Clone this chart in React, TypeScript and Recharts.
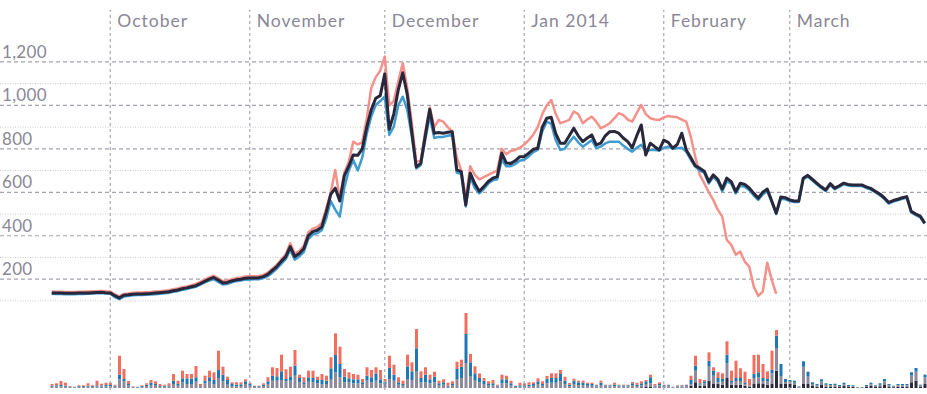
import React from 'react';
import { ComposedChart, Line, Bar, XAxis, YAxis, ReferenceLine } from 'recharts';

const FONT = 'Lato, "Open Sans", sans-serif';
const TEXT = '#8a8796';

// Daily series from 18 Sep 2013 (day 0) to 31 Mar 2014 (day 194)
const monthLabels = ['October', 'November', 'December', 'Jan 2014', 'February', 'March'];
const monthStartDay = [13, 44, 74, 105, 136, 164];
const priceGrid = [100, 200, 300, 400, 500, 600, 700, 800, 900, 1000, 1100, 1200];

// Mt. Gox (pink) – stops on 25 Feb
const goxPrice = [
  143, 142, 142, 141, 141, 141, 142, 142, 143, 144, 145, 146, 144, 143,
  130, 121, 132, 134,
  138, 139, 139, 140, 141, 143, 145, 147, 149, 154, 157, 163, 167, 172, 178, 188, 198, 208, 216, 204, 191, 193, 200, 205, 208, 212, 213,
  214, 215, 220, 230, 248, 266, 290, 315, 365, 318, 330, 352, 415, 432, 440, 458, 525, 600, 703, 570, 690, 740, 833, 820, 830, 940, 1080, 1130, 1160, 1225,
  1000, 1020, 1110, 1195, 1080, 920, 740, 745, 880, 990, 900, 933, 925, 900, 880, 760, 700, 570, 720, 680, 660, 670, 680, 690, 700, 800, 775, 790, 795, 805,
  820, 840, 865, 900, 960, 1000, 1025, 960, 918, 925, 933, 972, 960, 918, 935, 948, 925, 895, 905, 918, 940, 964, 955, 935, 925, 965, 1002, 960, 941, 935, 933,
  945, 951, 948, 945, 935, 925, 856, 764, 680, 642, 600, 565, 520, 488, 381, 358, 312, 327, 281, 258, 166, 123, 143, 276, 197, 132,
];

// Bitstamp (blue)
const stampPrice = [
  133, 132, 132, 131, 131, 131, 132, 132, 133, 134, 135, 136, 134, 133,
  118, 108, 120, 123,
  126, 127, 127, 128, 129, 131, 133, 135, 137, 142, 145, 151, 155, 160, 165, 175, 185, 194, 200, 188, 176, 178, 186, 191, 194, 198, 199,
  200, 200, 205, 214, 230, 248, 270, 292, 335, 290, 305, 325, 385, 405, 412, 425, 480, 560, 520, 488, 620, 700, 749, 700, 760, 870, 950, 1002, 1020, 1040,
  864, 902, 1000, 1040, 980, 860, 710, 725, 840, 950, 850, 855, 855, 860, 865, 690, 685, 535, 670, 620, 595, 615, 640, 655, 660, 750, 720, 720, 730, 745,
  750, 765, 785, 795, 880, 925, 915, 840, 795, 800, 830, 856, 830, 810, 825, 841, 803, 810, 825, 833, 833, 833, 815, 800, 787, 805, 818, 787, 795, 795, 792,
  805, 810, 800, 803, 805, 787, 750, 718, 700, 690, 640, 670, 650, 605, 650, 640, 595, 630, 625, 610, 585, 565, 590, 605, 555, 500, 570, 568, 560, 555, 555,
  660, 672, 655, 637, 620, 606, 634, 614, 625, 637, 631, 629, 629, 629, 620, 613, 600, 587, 570, 548, 557, 563, 570, 575, 507, 495, 485, 455,
];

// Average price (dark)
const avgPrice = [
  137, 136, 136, 135, 135, 135, 136, 136, 137, 138, 139, 140, 138, 137,
  124, 114, 126, 128,
  131, 132, 132, 133, 134, 136, 138, 140, 142, 147, 150, 156, 160, 165, 170, 180, 190, 200, 208, 196, 183, 185, 192, 197, 200, 204, 205,
  206, 207, 212, 222, 240, 258, 282, 304, 350, 304, 318, 340, 400, 419, 425, 440, 510, 590, 619, 560, 675, 720, 772, 770, 800, 900, 980, 1033, 1045, 1145,
  890, 960, 1071, 1150, 1050, 880, 717, 733, 860, 982, 872, 875, 872, 876, 879, 703, 695, 542, 688, 640, 605, 626, 650, 665, 672, 780, 735, 733, 745, 764,
  764, 780, 798, 803, 900, 941, 945, 870, 826, 826, 860, 895, 860, 833, 850, 864, 818, 826, 860, 879, 880, 872, 850, 833, 805, 860, 910, 772, 826, 810, 795,
  840, 830, 803, 820, 872, 795, 760, 722, 711, 697, 649, 680, 660, 615, 665, 649, 603, 642, 636, 620, 595, 573, 600, 615, 560, 504, 578, 575, 565, 560, 560,
  665, 678, 660, 642, 625, 611, 640, 619, 630, 642, 636, 634, 634, 634, 625, 618, 605, 592, 575, 553, 562, 568, 575, 580, 512, 500, 490, 458,
];

// Stacked daily volumes (relative units)
const volRed = [
  1.7, 2, 4, 3, 0.5, 0.3, 0.7, 0.7, 2.4, 0.7, 4.6, 1.8, 2.3, 2.3, 1,
  19, 10, 3, 0.4, 0.3, 0.7, 1.4, 2.7, 2.7, 2, 1, 2.4, 6.7, 3.3, 7.6,
  4.3, 4.7, 11.3, 2.3, 5, 6.6, 7.7, 19.3, 8, 3.3, 1.7, 2.4, 2, 2, 1.3,
  0.5, 0.5, 1.4, 4, 8.4, 8.3, 16.6, 9.7, 9.6, 15.7, 3.3, 5, 6.6, 7.3, 3.3,
  6, 5, 11, 21.7, 17.3, 7.7, 6, 5.3, 4.6, 3.3, 8.4, 7.3, 6, 9.3, 2.7,
  12.3, 10, 5, 3.3, 11.6, 9, 19.3, 6.7, 7.4, 4.6, 5, 2.6, 3, 3, 2.7,
  7.3, 7, 21, 8.3, 7, 4.7, 2.7, 2.7, 3.3, 0.8, 4.6, 3.6, 2.6, 0.3, 2.6,
  2, 2.4, 1.7, 3, 2.7, 2.7, 4.7, 4.7, 4, 4, 1.7, 2, 1.6, 2, 1.3,
  1.3, 0.6, 2, 0.6, 0.6, 2, 0.6, 0.6, 0.6, 1.3, 2, 2, 1.3, 2.6, 1.7,
  1.7, 0.5, 0.5, 0.2, 0.4, 0.5, 0.5, 4.3, 10, 4.3, 1.3, 8.4, 3.4, 5.7, 5.7,
  13.4, 10, 17.3, 9.7, 10.6, 6.7, 19, 17.6, 14, 7.7, 19, 5.7, 0, 0, 0,
  0, 0, 0, 0, 0, 0, 0, 0, 0, 0, 0, 0, 0, 0, 0,
  0, 0, 0, 0, 0, 0, 0, 0, 0, 0, 0, 0, 0, 0, 0,
];
const volBlue = [
  1, 1.2, 1.3, 1, 0.5, 0.3, 0.8, 0.8, 1, 0.8, 1.2, 1, 1.3, 1.3, 1,
  4.6, 2.3, 1.5, 0.5, 0.3, 0.8, 1.3, 2.3, 1.7, 0.8, 1, 1, 3.3, 1.7, 4,
  5.7, 5.3, 4.4, 0.7, 2.6, 4.4, 4, 8, 6.6, 4.7, 2, 1.5, 1.7, 2.7, 1.7,
  0.8, 0.8, 1.3, 2.7, 5, 4.4, 8.7, 2.3, 4.4, 10, 4.3, 1.7, 4.4, 4.3, 3.3,
  4, 3.3, 11.4, 17.3, 13.3, 5.6, 4, 4, 4, 1.7, 5, 5, 7.4, 4, 2.3,
  11, 6, 2.4, 1.7, 12.7, 8.7, 23.4, 4.3, 7.6, 4, 5.6, 2, 2.4, 1, 1.7,
  10, 11.3, 29, 14.4, 7.4, 4.3, 3.3, 1.7, 2, 1, 4, 4, 2, 0.8, 1.2,
  1.2, 1.5, 1.8, 2.7, 1.7, 4.6, 4.7, 4.7, 7.3, 3.3, 1.5, 3.3, 2.7, 2.3, 1.8,
  1.8, 1.2, 2.3, 1.2, 1.2, 1.5, 1.2, 1.2, 1.2, 2.2, 1.3, 2, 2.7, 6, 0.8,
  1.5, 1, 1, 0.3, 0.8, 0.8, 1, 4, 5, 1.2, 2.2, 6, 5, 4.3, 2.7,
  8.6, 2, 3, 3, 1.7, 0.5, 4, 5, 3, 2.7, 3.6, 12.3, 12, 3, 2,
  2, 0.5, 5.4, 5, 1.7, 1.2, 2.2, 1.5, 1.2, 1.3, 1, 1.5, 1, 0.8, 0.3,
  0.3, 1, 1.5, 0.8, 1.5, 2.5, 1.2, 0.7, 1.2, 1.2, 1.2, 3.3, 3.7, 1, 2.7,
];
const volGray = [
  1.3, 1.5, 1.7, 1.3, 1, 0.7, 1.2, 1.2, 1.3, 1.2, 1.5, 1.5, 1.7, 1.7, 1.3,
  8.7, 6.7, 2.5, 0.8, 0.7, 1.2, 2, 3, 2.3, 1.2, 1.3, 1.3, 4, 2.3, 5.7,
  4, 4, 6.3, 1, 4.7, 6.3, 4, 10, 6.7, 3.3, 2, 1.8, 2, 4, 2.3,
  1, 1, 2, 4, 7.3, 7.3, 8, 6.7, 7.3, 12.3, 5.7, 4, 6.3, 5.7, 4.7,
  4, 4, 8.3, 15.7, 10.7, 5.7, 5.7, 4.7, 4.7, 4, 7.3, 5.7, 7.3, 4.7, 4,
  9, 7.3, 3.3, 2.3, 9, 8, 16.3, 5.7, 5.7, 4.7, 5.7, 2.7, 3.3, 1.3, 2.3,
  9, 10, 25, 11.3, 7.3, 5.7, 4, 2.3, 2.7, 1.5, 4.7, 4.7, 2.7, 1.2, 1.5,
  1.5, 1.8, 2.2, 4, 2.3, 4.7, 5.3, 5.3, 6.7, 4, 1.8, 4, 3, 3, 2.2,
  2.2, 1.5, 3, 1.5, 1.5, 1.8, 1.5, 1.5, 1.5, 2, 1.5, 2, 3, 3.7, 1,
  1.8, 1.3, 1.3, 0.5, 1, 1.2, 1.3, 1.7, 11.6, 1.2, 2.5, 14, 8.3, 1.7, 3,
  14.7, 2, 3.7, 3.7, 1.7, 0.5, 6, 6, 3, 3, 10.7, 22.7, 8, 2, 2,
  2.3, 0.7, 17.3, 7.3, 2, 1.3, 3.5, 1.7, 1.3, 1.5, 1, 1.8, 1, 0.9, 0.3,
  0.3, 1, 1.8, 0.9, 1.5, 3.5, 1.3, 0.8, 1.3, 1.3, 1.3, 6.7, 9, 1.1, 6.7,
];
const volDark = [
  0, 0, 0, 0, 0, 0, 0, 0, 0, 0, 0, 0, 0, 0, 0,
  0, 0, 0, 0, 0, 0, 0, 0, 0, 0, 0, 0, 0, 0, 0,
  0, 0, 0, 0, 0, 0, 0, 0, 0, 0, 0, 0, 0, 0, 0,
  0, 0, 0, 0, 0, 0, 0, 0, 0, 0, 0, 0, 0, 0, 0,
  0, 0, 0, 0, 0, 0, 0, 0, 0, 0, 0, 0, 0, 0, 0,
  0, 0, 0, 0, 0, 0, 0, 0, 0, 0, 0, 0, 0, 0, 0,
  0, 0, 0, 0, 0, 0, 0, 0, 0, 0, 0, 0, 0, 0, 0,
  0, 0, 0, 0, 0, 0, 0, 0, 0, 0, 0, 0, 0, 0, 0,
  0, 0, 0, 0, 0, 0, 0, 0, 0, 0.5, 0.5, 0.7, 1, 1, 0.5,
  0.7, 0.5, 0.5, 0.3, 0.5, 0.5, 0.5, 2.3, 5.7, 2.3, 2, 7.3, 4, 4, 3.3,
  10, 3.3, 3.3, 3.3, 2.3, 1.3, 4, 4.7, 4, 3.3, 4, 17.3, 4, 4, 4,
  3, 0.5, 4, 4, 2, 1.5, 3, 1.5, 1.5, 1.5, 1, 2, 1, 1, 0.4,
  0.4, 1, 2, 1, 1.7, 3, 1.5, 0.8, 1.5, 1.5, 1.5, 5.7, 7.3, 1.2, 4,
];

const rows = avgPrice.map((v, i) => ({
  day: i,
  gox: i < goxPrice.length ? goxPrice[i] : null,
  stamp: stampPrice[i],
  avg: v,
  vDark: volDark[i],
  vGray: volGray[i],
  vBlue: volBlue[i],
  vRed: volRed[i],
}));

const priceLabel = (text: string) => (props: any) => {
  const vb = props.viewBox || {};
  return (
    <text x={2} y={(vb.y ?? 0) - 4} fill={TEXT} fontFamily={FONT} fontSize={17} letterSpacing={0.3}>
      {text}
    </text>
  );
};

const monthLabel = (text: string) => (props: any) => {
  const vb = props.viewBox || {};
  return (
    <text x={(vb.x ?? 0) + 7} y={(vb.y ?? 0) + 17} fill={TEXT} fontFamily={FONT} fontSize={17.5} letterSpacing={1}>
      {text}
    </text>
  );
};

export default function App() {
  return (
    <div style={{ position: 'absolute', left: 0, top: 0, width: 927, height: 394, background: '#fff' }}>
      <ComposedChart width={927} height={394} data={rows} margin={{ top: 10, right: 0, bottom: 4, left: 0 }}>
        <XAxis dataKey="day" type="number" domain={[-11.5, 194.5]} allowDataOverflow hide />
        <YAxis yAxisId="price" type="number" domain={[-310, 1439]} allowDataOverflow hide />
        <YAxis yAxisId="vol" type="number" domain={[-2, 378]} allowDataOverflow hide />
        {priceGrid.map((v) =>
          v % 200 === 0 ? (
            <ReferenceLine
              key={`h${v}`}
              yAxisId="price"
              y={v}
              stroke="#a4a1ad"
              strokeWidth={1.2}
              strokeDasharray="4 3"
              label={priceLabel(v.toLocaleString('en-US'))}
            />
          ) : (
            <ReferenceLine key={`h${v}`} yAxisId="price" y={v} stroke="#c9c7cf" strokeWidth={1} strokeDasharray="1 1.5" />
          )
        )}
        {monthStartDay.map((d, k) => (
          <ReferenceLine
            key={`m${d}`}
            yAxisId="price"
            x={d}
            stroke="#a8a5b1"
            strokeWidth={1.2}
            strokeDasharray="3 3"
            label={monthLabel(monthLabels[k])}
          />
        ))}
        <Bar yAxisId="vol" dataKey="vDark" stackId="v" fill="#2c2a3e" barSize={3} isAnimationActive={false} />
        <Bar yAxisId="vol" dataKey="vGray" stackId="v" fill="#8e8a9c" barSize={3} isAnimationActive={false} />
        <Bar yAxisId="vol" dataKey="vBlue" stackId="v" fill="#1f78b6" barSize={3} isAnimationActive={false} />
        <Bar yAxisId="vol" dataKey="vRed" stackId="v" fill="#f46e60" barSize={3} isAnimationActive={false} />
        <Line yAxisId="price" dataKey="gox" stroke="#f5918a" strokeWidth={2.5} dot={false} isAnimationActive={false} strokeLinejoin="round" />
        <Line yAxisId="price" dataKey="stamp" stroke="#3f9bd0" strokeWidth={2.5} dot={false} isAnimationActive={false} strokeLinejoin="round" />
        <Line yAxisId="price" dataKey="avg" stroke="#29273b" strokeWidth={3} dot={false} isAnimationActive={false} strokeLinejoin="round" />
      </ComposedChart>
    </div>
  );
}
